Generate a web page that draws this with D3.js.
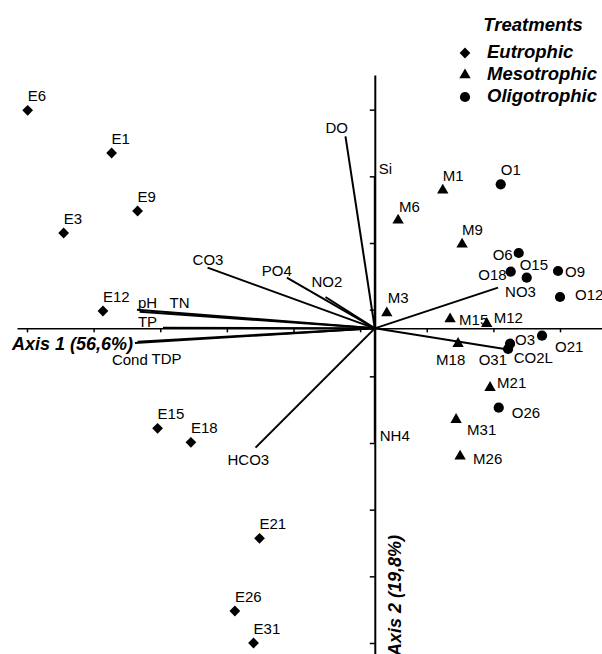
<!DOCTYPE html>
<html>
<head>
<meta charset="utf-8">
<script src="https://cdn.jsdelivr.net/npm/d3@7"></script>
<style>
  body { margin: 0; background: #fff; }
  svg { display: block; font-family: "Liberation Sans", Arial, Helvetica, sans-serif; }
</style>
</head>
<body>
<div id="chart"></div>
<script>
// sample scores (axis 1, axis 2)
const eNames = ['E1', 'E3', 'E6', 'E9', 'E12', 'E15', 'E18', 'E21', 'E26', 'E31'];
const eAxis1 = [-3.95, -4.67, -5.21, -3.56, -4.08, -3.26, -2.76, -1.73, -2.10, -1.82];
const eAxis2 = [2.63, 1.43, 3.27, 1.76, 0.26, -1.50, -1.71, -3.15, -4.24, -4.72];

const mNames = ['M1', 'M3', 'M6', 'M9', 'M12', 'M15', 'M18', 'M21', 'M26', 'M31'];
const mAxis1 = [1.02, 0.18, 0.35, 1.31, 1.68, 1.13, 1.25, 1.73, 1.28, 1.22];
const mAxis2 = [2.07, 0.23, 1.62, 1.26, 0.07, 0.14, -0.23, -0.89, -1.92, -1.37];

const oNames = ['O1', 'O3', 'O6', 'O9', 'O12', 'O15', 'O18', 'O21', 'O26', 'O31'];
const oAxis1 = [1.89, 2.03, 2.16, 2.75, 2.78, 2.28, 2.04, 2.51, 1.86, 2.00];
const oAxis2 = [2.16, -0.23, 1.13, 0.86, 0.47, 0.76, 0.85, -0.11, -1.19, -0.31];

// environmental variables (arrow heads)
const varNames = ['DO', 'Si', 'CO3', 'PO4', 'NO2', 'pH', 'TN', 'TP', 'Cond', 'TDP', 'NO3', 'CO2L', 'NH4', 'HCO3'];
const varAxis1 = [-0.44, 0, -2.51, -1.32, -0.74, -3.57, -3.53, -3.18, -3.60, -3.56, 1.85, 1.95, 0, -1.79];
const varAxis2 = [2.88, 2.27, 0.91, 0.76, 0.47, 0.28, 0.25, 0.01, -0.22, -0.20, 0.61, -0.31, -1.71, -1.79];

const treatments = ['Eutrophic', 'Mesotrophic', 'Oligotrophic'];
const xTicks = [-5.22, -4.22, -3.22, -2.22, -1.22, -0.22, 0.78, 1.78, 2.78];
const yTicks = [3.28, 2.28, 1.28, 0.28, -0.72, -1.72, -2.72, -3.72, -4.72];

// label placement: [dx, dy, anchor]
const labelPos = {
  M3: [1, -10], M6: [1, -8], M12: [7, -1], M15: [9, 6], M18: [-22, 21], M21: [7, 0], M26: [13, 8], M31: [11, 15],
  O3: [5, 1], O6: [-6, 7, 'end'], O9: [7, 6], O12: [15, 3], O15: [-7, -8], O18: [-4, 8, 'end'],
  O21: [13, 16], O26: [13, 10], O31: [-1, 16, 'end'],
  DO: [-20, -3], Si: [4, -3], CO3: [-15, -3], PO4: [-25, -2], NO2: [-14, -10], pH: [1, -2], TN: [30, -4],
  TP: [-25, -1], Cond: [-23, 22], TDP: [14, 22], NO3: [7, 9], CO2L: [9, 14], NH4: [5, -1], HCO3: [-28, 17]
};

const width = 602, height = 654;
const svg = d3.select('#chart').append('svg').attr('width', width).attr('height', height);

const x = d3.scaleLinear().domain([-5.37, 3.41]).range([17, 602]);
const y = d3.scaleLinear().domain([3.8, -4.9]).range([75, 655]);

const shapes = {
  Eutrophic: d3.symbol().type(d3.symbolSquare).size(58),
  Mesotrophic: d3.symbol().type(d3.symbolTriangle).size(56),
  Oligotrophic: d3.symbol().type(d3.symbolCircle).size(82)
};

// axes
svg.append('g')
  .attr('transform', `translate(0,${y(0)})`)
  .call(d3.axisBottom(x).tickValues(xTicks).tickSize(4).tickSizeOuter(0).tickFormat(''))
  .call(g => g.selectAll('path, line').attr('stroke', '#000').attr('stroke-width', 1.5));

svg.append('g')
  .attr('transform', `translate(${x(0)},0)`)
  .call(d3.axisLeft(y).tickValues(yTicks).tickSize(5).tickSizeOuter(0).tickFormat(''))
  .call(g => g.selectAll('path, line').attr('stroke', '#000').attr('stroke-width', 1.5))
  .call(g => g.select('path').attr('stroke-width', 2));

svg.append('text')
  .attr('x', 12).attr('y', y(0) + 22)
  .attr('font-size', 18).attr('font-weight', 'bold').attr('font-style', 'italic')
  .text('Axis 1 (56,6%)');

svg.append('text')
  .attr('transform', `translate(${x(0) + 26},535) rotate(-90)`)
  .attr('text-anchor', 'end')
  .attr('font-size', 18).attr('font-weight', 'bold').attr('font-style', 'italic')
  .text('Axis 2 (19,8%)');

// vectors
const vars = varNames.map((n, i) => ({ name: n, a1: varAxis1[i], a2: varAxis2[i] }));
svg.selectAll('.vec')
  .data(vars)
  .enter()
  .append('line')
    .attr('class', 'vec')
    .attr('x1', x(0)).attr('y1', y(0))
    .attr('x2', d => x(d.a1)).attr('y2', d => y(d.a2))
    .attr('stroke', '#000').attr('stroke-width', 2);

svg.selectAll('.vlab')
  .data(vars)
  .enter()
  .append('text')
    .attr('class', 'vlab')
    .attr('x', d => x(d.a1) + labelPos[d.name][0])
    .attr('y', d => y(d.a2) + labelPos[d.name][1])
    .attr('font-size', 15)
    .text(d => d.name);

// samples
const samples = [];
eNames.forEach((n, i) => samples.push({ name: n, t: 'Eutrophic', a1: eAxis1[i], a2: eAxis2[i] }));
mNames.forEach((n, i) => samples.push({ name: n, t: 'Mesotrophic', a1: mAxis1[i], a2: mAxis2[i] }));
oNames.forEach((n, i) => samples.push({ name: n, t: 'Oligotrophic', a1: oAxis1[i], a2: oAxis2[i] }));

svg.selectAll('.pt')
  .data(samples)
  .enter()
  .append('path')
    .attr('class', 'pt')
    .attr('d', d => shapes[d.t]())
    .attr('transform', d => `translate(${x(d.a1)},${y(d.a2)})` + (d.t == 'Eutrophic' ? ' rotate(45)' : ''))
    .attr('fill', '#000');

svg.selectAll('.plab')
  .data(samples)
  .enter()
  .append('text')
    .attr('class', 'plab')
    .attr('x', d => x(d.a1) + (labelPos[d.name] ? labelPos[d.name][0] : 0))
    .attr('y', d => y(d.a2) + (labelPos[d.name] ? labelPos[d.name][1] : -9))
    .attr('text-anchor', d => (labelPos[d.name] && labelPos[d.name][2]) || 'start')
    .attr('font-size', 15)
    .text(d => d.name);

// legend
const legend = svg.append('g');
legend.append('text')
  .attr('x', 533).attr('y', 31)
  .attr('text-anchor', 'middle')
  .attr('font-size', 18.5).attr('font-weight', 'bold').attr('font-style', 'italic')
  .text('Treatments');

const items = legend.selectAll('.leg')
  .data(treatments)
  .enter()
  .append('g')
    .attr('class', 'leg')
    .attr('transform', (d, i) => `translate(465,${53 + i * 22})`);

items.append('path')
  .attr('d', d => shapes[d]())
  .attr('transform', d => d == 'Eutrophic' ? 'rotate(45)' : '')
  .attr('fill', '#000');

items.append('text')
  .attr('x', 22).attr('y', 5)
  .attr('font-size', 18.5).attr('font-weight', 'bold').attr('font-style', 'italic')
  .text(d => d);
</script>
</body>
</html>
